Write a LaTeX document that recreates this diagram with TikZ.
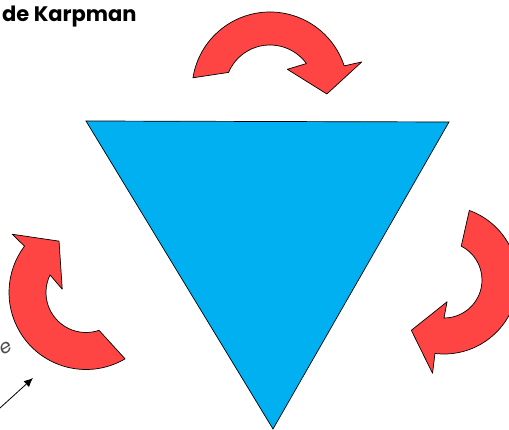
\documentclass[tikz,border=0pt]{standalone}
\usepackage{fontspec}
\usepackage{xcolor}
\usepackage{tikz}
\usetikzlibrary{arrows,arrows.meta}
\usetikzlibrary{calc,positioning}
\newfontfamily\titlefont{Poppins}
\definecolor{arrowred}{RGB}{255,68,68}
\definecolor{triblue}{RGB}{0,176,240}
\tikzstyle{none}=[inner sep=0mm]
\tikzstyle{rotarrow}=[fill=arrowred,draw=black,line width=0.7pt,line join=round]
\tikzstyle{tri}=[fill=triblue,draw=black,line width=0.7pt,line join=miter]
\tikzstyle{title}=[inner sep=0mm,anchor=base west,font=\titlefont\bfseries\fontsize{21}{24}\selectfont]
\tikzstyle{hint}=[inner sep=0mm,text=black!70,font=\titlefont\itshape\fontsize{19}{21}\selectfont]
\tikzstyle{pointer}=[line width=0.8pt,-{Latex[length=9pt,width=8pt]}]

\begin{document}
\begin{tikzpicture}[x=1pt,y=1pt]
	\useasboundingbox (0,0) rectangle (509,430);
	% title and the cut text
	\node [style=title] (ttl) at (2,408) {de Karpman};
	\node [style=hint,rotate=30] (hnt) at (6,82) {e};
	% triangle
	\coordinate (tl) at (86,309);
	\coordinate (tr) at (449,308);
	\coordinate (bt) at (273,1);
	\draw [style=tri] (tl) -- (tr) -- (bt) -- cycle;
	% top arrow
	\begin{scope}[shift={(270,340)}]
		\draw [style=rotarrow] (171:78) arc[start angle=171,end angle=18,radius=78]
			-- (17:96) -- (-4:57) -- (50:27) -- (36:45)
			arc[start angle=36,end angle=157,radius=45] -- cycle;
	\end{scope}
	% right arrow
	\begin{scope}[shift={(444,150)}]
		\draw [style=rotarrow] (70:74) arc[start angle=70,end angle=-97,radius=74]
			-- (-97:94) -- (-123:60) -- (-82:22) -- (-90:38)
			arc[start angle=-90,end angle=63,radius=38] -- cycle;
	\end{scope}
	% left arrow
	\begin{scope}[shift={(86,137.5)}]
		\draw [style=rotarrow] (-59.5:77) arc[start angle=-59.5,end angle=-217,radius=77]
			-- (141.7:94) -- (117.7:58) -- (172:24) -- (154:40)
			arc[start angle=154,end angle=289,radius=40] -- cycle;
	\end{scope}
	% pointer
	\coordinate (p0) at (0,22);
	\coordinate (p1) at (33,52);
	\draw [style=pointer] (p0) -- (p1);
\end{tikzpicture}
\end{document}
